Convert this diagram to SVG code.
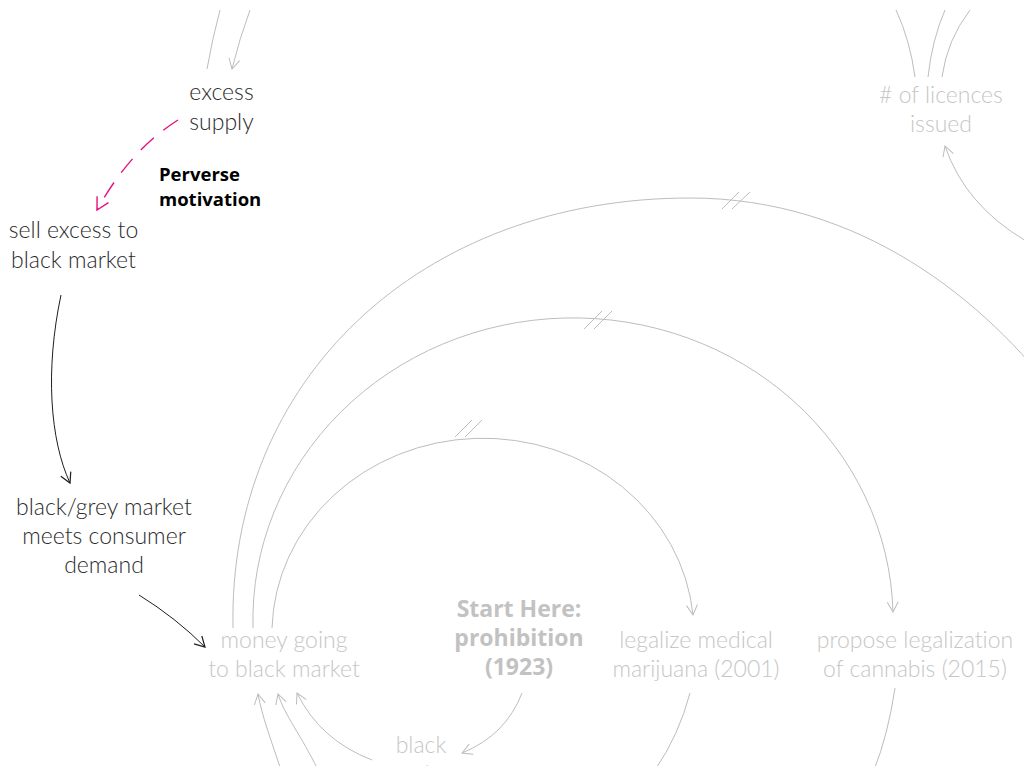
<svg xmlns="http://www.w3.org/2000/svg" width="1024" height="766" viewBox="0 0 1024 766">
  <style>
    .lbl { font-family: Lato, "Open Sans", "Liberation Sans", sans-serif; font-weight: 300; font-size: 23px; text-anchor: middle; font-variant-ligatures: none; }
    .dark { fill: #2b2b2b; }
    .faded { fill: #c6c6c6; }
    .bold { font-family: "Open Sans", Lato, "Liberation Sans", sans-serif; font-weight: 700; font-variant-ligatures: none; }
    .link { fill: none; stroke-width: 1; }
    .grey { stroke: #bdbdbd; }
    .black { stroke: #1e1e1e; }
    .pink { stroke: #e5127f; stroke-width: 1.4; stroke-dasharray: 18 12; }
    .delay { stroke: #bdbdbd; stroke-width: 1; }
  </style>
  <defs>
    <marker id="ah-grey" viewBox="-12 -7 14 14" markerWidth="14" markerHeight="14" markerUnits="userSpaceOnUse" orient="auto" refX="0" refY="0">
      <path d="M-10,-5.5 L0,0 L-10,5.5" fill="none" stroke="#bdbdbd" stroke-width="1"/>
    </marker>
    <marker id="ah-black" viewBox="-12 -7 14 14" markerWidth="14" markerHeight="14" markerUnits="userSpaceOnUse" orient="auto" refX="0" refY="0">
      <path d="M-10,-5.5 L0,0 L-10,5.5" fill="none" stroke="#1e1e1e" stroke-width="1.2"/>
    </marker>
    <marker id="ah-pink" viewBox="-14 -8 16 16" markerWidth="16" markerHeight="16" markerUnits="userSpaceOnUse" orient="auto" refX="0" refY="0">
      <path d="M-12,-6.5 L0,0 L-12,6.5" fill="none" stroke="#e5127f" stroke-width="1.4"/>
    </marker>
  </defs>

  <rect width="1024" height="766" fill="#ffffff"/>

  <!-- connectors -->
  <g id="connectors">
    <!-- into / out of "excess supply" -->
    <path class="link grey" d="M220,10 Q212,40 207,69"/>
    <path class="link grey" d="M250,10 Q239,40 232,69" marker-end="url(#ah-grey)"/>
    <!-- perverse motivation -->
    <path class="link pink" d="M178,120 Q130,150 97,210" marker-end="url(#ah-pink)"/>
    <!-- black market chain -->
    <path class="link black" d="M61,295 C45,370 50,440 70,483" marker-end="url(#ah-black)"/>
    <path class="link black" d="M139,595 Q176,618 205,647" marker-end="url(#ah-black)"/>
    <!-- long delayed loops from "money going to black market" -->
    <path class="link grey" d="M272,628 A211,195 0 0 1 693,615" marker-end="url(#ah-grey)"/>
    <path class="link grey" d="M253,628 A320,302 0 0 1 893,612" marker-end="url(#ah-grey)"/>
    <path class="link grey" d="M233,628 C228,380 420,198 690,198 C860,198 985,300 1060,400"/>
    <!-- delay marks -->
    <path class="delay" d="M455,437 L472,420 M465,437 L482,420"/>
    <path class="delay" d="M584,329 L602,311 M594,329 L612,311"/>
    <path class="delay" d="M722,209 L739,192 M732,209 L750,192"/>
    <!-- into "money going to black market" from below -->
    <path class="link grey" d="M281,770 C271,740 262,716 258,694" marker-end="url(#ah-grey)"/>
    <path class="link grey" d="M318,770 C301,735 285,716 278,694" marker-end="url(#ah-grey)"/>
    <path class="link grey" d="M372,760 Q320,740 297,693" marker-end="url(#ah-grey)"/>
    <!-- prohibition to black market -->
    <path class="link grey" d="M522,693 Q506,735 462,753" marker-end="url(#ah-grey)"/>
    <!-- out of the policy nodes -->
    <path class="link grey" d="M690,693 Q679,735 655,770"/>
    <path class="link grey" d="M895,688 Q888,735 874,770"/>
    <!-- around "# of licences issued" -->
    <path class="link grey" d="M896,10 Q910,40 915,77"/>
    <path class="link grey" d="M945,10 Q932,40 928,77"/>
    <path class="link grey" d="M970,10 Q947,40 942,77"/>
    <path class="link grey" d="M1026,241 Q965,205 945,146" marker-end="url(#ah-grey)"/>
  </g>

  <!-- nodes -->
  <g id="excess-supply">
    <text class="lbl dark" x="221.5" y="100">excess</text>
    <text class="lbl dark" x="221.5" y="130">supply</text>
  </g>
  <g id="perverse-motivation">
    <text class="bold" x="159" y="181" font-size="18.5" fill="#000">Perverse</text>
    <text class="bold" x="159" y="206" font-size="18.5" fill="#000">motivation</text>
  </g>
  <g id="sell-excess">
    <text class="lbl dark" x="73.5" y="238">sell excess to</text>
    <text class="lbl dark" x="73.5" y="268">black market</text>
  </g>
  <g id="grey-market">
    <text class="lbl dark" x="104" y="515">black/grey market</text>
    <text class="lbl dark" x="104" y="544">meets consumer</text>
    <text class="lbl dark" x="104" y="573">demand</text>
  </g>
  <g id="money-black-market">
    <text class="lbl faded" x="284" y="648">money going</text>
    <text class="lbl faded" x="284" y="677">to black market</text>
  </g>
  <g id="prohibition">
    <text class="lbl bold" x="519" y="617" font-size="21" fill="#c2c2c2">Start Here:</text>
    <text class="lbl bold" x="519" y="646" font-size="21" fill="#c2c2c2">prohibition</text>
    <text class="lbl bold" x="519" y="675" font-size="21" fill="#c2c2c2">(1923)</text>
  </g>
  <g id="medical">
    <text class="lbl faded" x="696" y="648">legalize medical</text>
    <text class="lbl faded" x="696" y="677">marijuana (2001)</text>
  </g>
  <g id="legalization">
    <text class="lbl faded" x="915" y="648">propose legalization</text>
    <text class="lbl faded" x="915" y="677">of cannabis (2015)</text>
  </g>
  <g id="licences">
    <text class="lbl faded" x="941" y="103"># of licences</text>
    <text class="lbl faded" x="941" y="132">issued</text>
  </g>
  <g id="black-market">
    <text class="lbl faded" x="421" y="753">black</text>
    <text class="lbl faded" x="421" y="782">market</text>
  </g>
</svg>
